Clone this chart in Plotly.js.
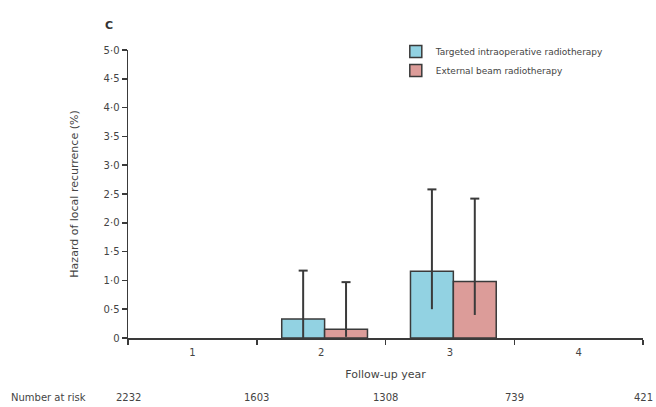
<!DOCTYPE html>
<html>
<head>
<meta charset="utf-8">
<script src="https://cdn.plot.ly/plotly-3.0.1.min.js"></script>
<style>
html,body{margin:0;padding:0;background:#fff;}
#chart{width:656px;height:407px;}
</style>
</head>
<body>
<div id="chart"></div>
<script>
// ---- data ----
const years = [2, 3];
const yearLabels = ['1', '2', '3', '4'];
const yearTicks = [1, 2, 3, 4];
const seriesNames = ['Targeted intraoperative radiotherapy', 'External beam radiotherapy'];
const tarditValues = [0.33, 1.16];
const tarditUpper = [1.17, 2.58];
const tarditLower = [0.0, 0.5];
const ebrtValues = [0.15, 0.98];
const ebrtUpper = [0.97, 2.42];
const ebrtLower = [0.02, 0.4];
const riskPositions = [0.5, 1.5, 2.5, 3.5, 4.5];
const numberAtRisk = ['2232', '1603', '1308', '739', '421'];
const yTickVals = [0, 0.5, 1, 1.5, 2, 2.5, 3, 3.5, 4, 4.5, 5];
const yTickText = ['0', '0·5', '1·0', '1·5', '2·0', '2·5', '3·0', '3·5', '4·0', '4·5', '5·0'];

// ---- style ----
const barW = 0.333;
const shift = 0.027;
const capHalf = 0.035;
const lineCol = '#3a3a3a';
const txtCol = '#444';
const font = 'DejaVu Sans, sans-serif';

function errTrace(centers, lower, upper) {
  const xs = [], ys = [];
  centers.forEach((c, i) => {
    xs.push(c, c, null, c - capHalf, c + capHalf, null);
    ys.push(lower[i], upper[i], null, upper[i], upper[i], null);
  });
  return {type: 'scatter', mode: 'lines', x: xs, y: ys, showlegend: false,
          line: {color: lineCol, width: 2}, hoverinfo: 'skip', cliponaxis: false};
}

const traces = [
  {type: 'bar', name: seriesNames[0], x: years, y: tarditValues, width: barW, offset: -barW + shift,
   marker: {color: '#92d2e2', line: {color: lineCol, width: 1.5}}},
  {type: 'bar', name: seriesNames[1], x: years, y: ebrtValues, width: barW, offset: shift,
   marker: {color: '#dc9c99', line: {color: lineCol, width: 1.5}}},
  errTrace(years.map(v => v - barW / 2 + shift), tarditLower, tarditUpper),
  errTrace(years.map(v => v + barW / 2 + shift), ebrtLower, ebrtUpper)
];

const annotations = riskPositions.map((p, i) => ({
  x: p, xref: 'x', y: -0.205, yref: 'paper', text: numberAtRisk[i], showarrow: false,
  font: {family: font, size: 10, color: txtCol}, xanchor: 'center', yanchor: 'middle'
}));
annotations.push({x: -0.231, xref: 'paper', y: -0.205, yref: 'paper', text: 'Number at risk',
  showarrow: false, xanchor: 'left', yanchor: 'middle', font: {family: font, size: 10, color: txtCol}});
annotations.push({x: -0.036, xref: 'paper', y: 1.085, yref: 'paper', text: '<b>C</b>',
  showarrow: false, xanchor: 'center', yanchor: 'middle', font: {family: font, size: 11, color: '#333'}});

const layout = {
  width: 656, height: 407,
  margin: {l: 128, r: 13, t: 50, b: 69},
  paper_bgcolor: '#fff', plot_bgcolor: '#fff',
  showlegend: true,
  legend: {x: 0.52, y: 1.045, xanchor: 'left', yanchor: 'top', bgcolor: 'rgba(0,0,0,0)',
           font: {family: font, size: 9, color: txtCol}, tracegroupgap: 0, itemwidth: 30},
  xaxis: {range: [0.5, 4.5], showgrid: false, zeroline: false, showline: true,
          linecolor: lineCol, linewidth: 1.5, tickvals: yearTicks, ticktext: yearLabels, ticks: '',
          tickfont: {family: font, size: 10, color: txtCol}, ticklabelstandoff: 4,
          minor: {ticks: 'outside', tick0: 0.5, dtick: 1, ticklen: 5, tickcolor: lineCol, tickwidth: 1.5, showgrid: false},
          title: {text: 'Follow-up year', font: {family: font, size: 11, color: txtCol}, standoff: 14}},
  yaxis: {range: [0, 5], showgrid: false, zeroline: false, showline: true,
          linecolor: lineCol, linewidth: 1.5, tickvals: yTickVals, ticktext: yTickText,
          ticks: 'outside', ticklen: 5, tickcolor: lineCol, tickwidth: 1.5,
          tickfont: {family: font, size: 10, color: txtCol},
          title: {text: 'Hazard of local recurrence (%)', font: {family: font, size: 11, color: txtCol}, standoff: 22}},
  annotations: annotations
};

Plotly.newPlot('chart', traces, layout, {displayModeBar: false, staticPlot: true});
</script>
</body>
</html>
